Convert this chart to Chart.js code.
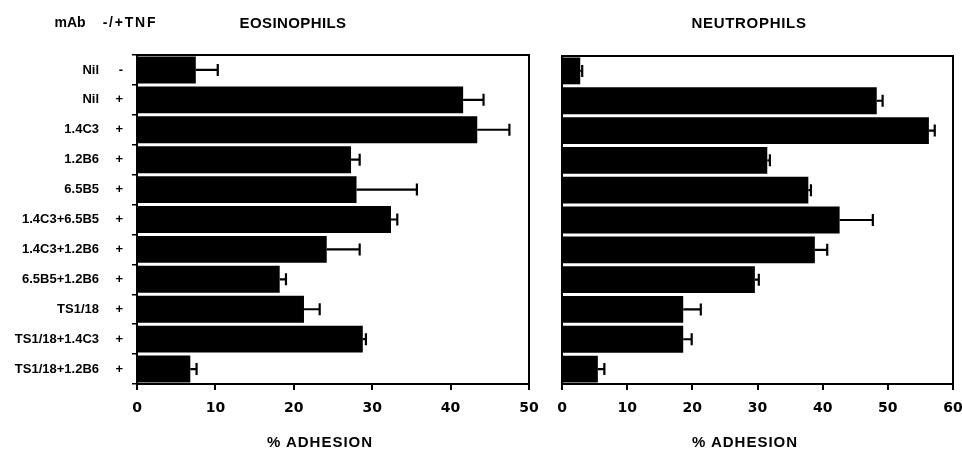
<!DOCTYPE html>
<html>
<head>
<meta charset="utf-8">
<script src="https://cdn.jsdelivr.net/npm/chart.js@4/dist/chart.umd.min.js"></script>
<style>
  html, body { margin:0; padding:0; background:#fff; }
  #wrap { position:relative; width:962px; height:449px; overflow:hidden; background:#fff; }
  .box { position:absolute; }
  .txt { position:absolute; font-family:"Liberation Sans", Arial, sans-serif; font-weight:bold; color:#000; white-space:nowrap; transform:translate(-50%,-50%); }
</style>
</head>
<body>
<div id="wrap">
  <div class="box" style="left:0;top:0;width:540px;height:449px;"><canvas id="eos"></canvas></div>
  <div class="box" style="left:540px;top:0;width:422px;height:449px;"><canvas id="neu"></canvas></div>
  <div class="txt" style="left:70px;top:22px;font-size:14px;">mAb</div>
  <div class="txt" style="left:130px;top:22px;font-size:14px;letter-spacing:1.8px;">-/+TNF</div>
  <div class="txt" style="left:293px;top:22px;font-size:15px;letter-spacing:0.4px;">EOSINOPHILS</div>
  <div class="txt" style="left:749px;top:22px;font-size:15px;letter-spacing:0.7px;">NEUTROPHILS</div>
  <div class="txt" style="left:320px;top:441px;font-size:15px;letter-spacing:1px;">% ADHESION</div>
  <div class="txt" style="left:745px;top:441px;font-size:15px;letter-spacing:1px;">% ADHESION</div>
</div>
<script>
const mAbs = ['Nil','Nil','1.4C3','1.2B6','6.5B5','1.4C3+6.5B5','1.4C3+1.2B6','6.5B5+1.2B6','TS1/18','TS1/18+1.4C3','TS1/18+1.2B6'];
const tnf = ['-','+','+','+','+','+','+','+','+','+','+'];
const eosMean = [7.5, 41.6, 43.4, 27.3, 28.0, 32.4, 24.2, 18.2, 21.3, 28.8, 6.8];
const eosErr  = [2.8, 2.6, 4.1, 1.1, 7.7, 0.8, 4.2, 0.8, 2.0, 0.4, 0.8];
const neuMean = [2.8, 48.3, 56.3, 31.5, 37.8, 42.6, 38.8, 29.6, 18.6, 18.6, 5.5];
const neuErr  = [0.3, 0.9, 0.9, 0.4, 0.4, 5.1, 1.9, 0.6, 2.7, 1.3, 1.0];
const eosMax = 50;
const neuMax = 60;
const tickStep = 10;

const errorBars = {
  id: 'errorBars',
  afterDatasetsDraw(chart, args, opts) {
    const ctx = chart.ctx;
    const xs = chart.scales.x, ys = chart.scales.y;
    const means = chart.data.datasets[0].data;
    const errs = opts.errors;
    ctx.save();
    ctx.strokeStyle = '#000';
    ctx.lineWidth = 2.2;
    means.forEach((m, i) => {
      const x0 = xs.getPixelForValue(m);
      const x1 = xs.getPixelForValue(m + errs[i]);
      const y = ys.getPixelForValue(i);
      ctx.beginPath();
      ctx.moveTo(x0, y); ctx.lineTo(x1, y);
      ctx.moveTo(x1, y - 6); ctx.lineTo(x1, y + 6);
      ctx.stroke();
    });
    ctx.restore();
  }
};
const frame = {
  id: 'frame',
  afterDraw(chart) {
    const a = chart.chartArea, ctx = chart.ctx;
    ctx.save();
    ctx.strokeStyle = '#000';
    ctx.lineWidth = 2;
    ctx.strokeRect(a.left, a.top, a.right - a.left, a.bottom - a.top);
    ctx.restore();
  }
};

const tickFont = { family: '"DejaVu Sans", sans-serif', weight: 'bold', size: 14 };
const labFont = { family: '"Liberation Sans", Arial, sans-serif', weight: 'bold', size: 13 };

function xAxis(max) {
  return {
    type: 'linear', min: 0, max: max,
    ticks: { stepSize: tickStep, color: '#000', font: tickFont, padding: 10, maxRotation: 0 },
    grid: { drawOnChartArea: false, drawTicks: true, tickLength: 6, color: '#000', lineWidth: 2 },
    border: { display: true, color: '#000', width: 2 },
    afterFit(s) { s.height = 65; s.paddingLeft = 0; s.paddingRight = 0; }
  };
}

new Chart(document.getElementById('eos'), {
  type: 'bar',
  data: { labels: mAbs, datasets: [{ data: eosMean, backgroundColor: '#000', borderWidth: 0, barPercentage: 0.9, categoryPercentage: 1.0 }] },
  options: {
    indexAxis: 'y', responsive: true, maintainAspectRatio: false, animation: false,
    layout: { padding: { top: 55, right: 11, left: 0, bottom: 0 } },
    plugins: { legend: { display: false }, tooltip: { enabled: false }, errorBars: { errors: eosErr } },
    scales: {
      x: xAxis(eosMax),
      y: {
        type: 'category', position: 'left', weight: 0, offset: true,
        ticks: { color: '#000', font: labFont, padding: 9, callback: (v, i) => tnf[i] },
        grid: { offset: true, drawOnChartArea: false, drawTicks: true, tickLength: 5, color: '#000', lineWidth: 1.5 },
        border: { display: true, color: '#000', width: 2 },
        afterFit(s) { s.width = 30; s.paddingTop = 0; s.paddingBottom = 0; }
      },
      y2: {
        type: 'category', position: 'left', weight: 1, offset: true,
        ticks: { color: '#000', font: labFont, padding: 8 },
        grid: { display: false, drawTicks: false },
        border: { display: false },
        afterFit(s) { s.width = 107; s.paddingTop = 0; s.paddingBottom = 0; }
      }
    }
  },
  plugins: [errorBars, frame]
});

new Chart(document.getElementById('neu'), {
  type: 'bar',
  data: { labels: mAbs, datasets: [{ data: neuMean, backgroundColor: '#000', borderWidth: 0, barPercentage: 0.9, categoryPercentage: 1.0 }] },
  options: {
    indexAxis: 'y', responsive: true, maintainAspectRatio: false, animation: false,
    layout: { padding: { top: 56, right: 9, left: 0, bottom: 0 } },
    plugins: { legend: { display: false }, tooltip: { enabled: false }, errorBars: { errors: neuErr } },
    scales: {
      x: xAxis(neuMax),
      y: {
        type: 'category', position: 'left', offset: true,
        ticks: { display: false },
        grid: { display: false },
        border: { display: true, color: '#000', width: 2 },
        afterFit(s) { s.width = 22; s.paddingTop = 0; s.paddingBottom = 0; }
      }
    }
  },
  plugins: [errorBars, frame]
});
</script>
</body>
</html>
